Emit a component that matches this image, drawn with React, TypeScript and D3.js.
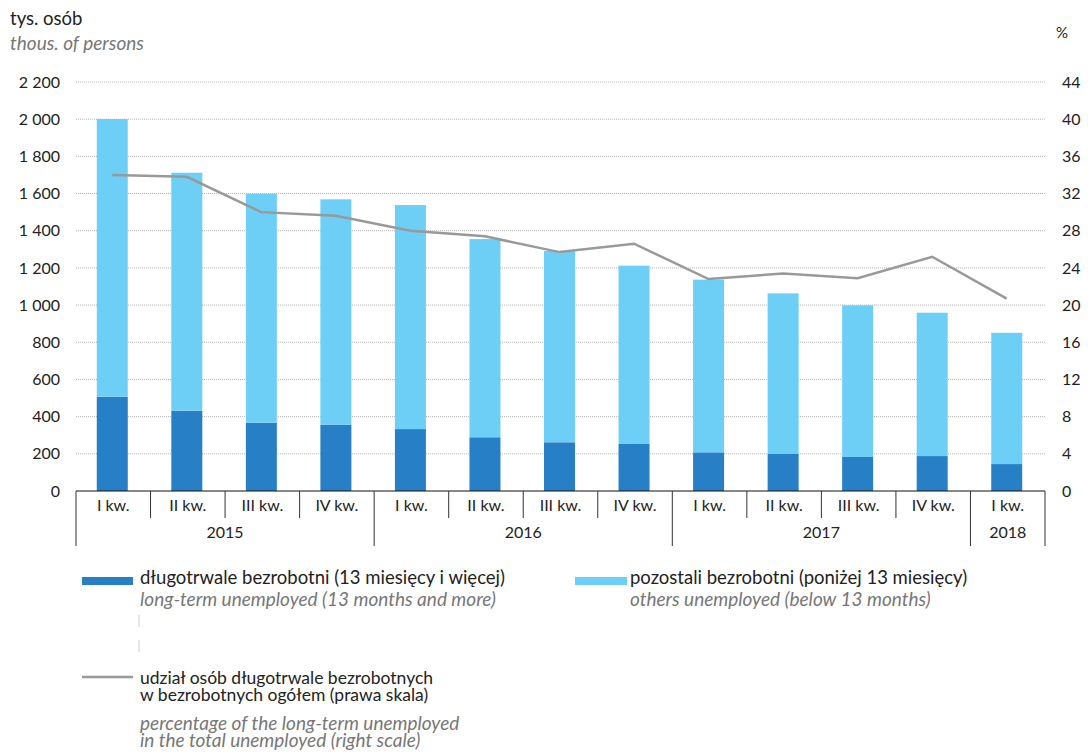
import React from "react";
import * as d3 from "d3";

const quarters = ["I kw.", "II kw.", "III kw.", "IV kw.", "I kw.", "II kw.", "III kw.", "IV kw.", "I kw.", "II kw.", "III kw.", "IV kw.", "I kw."];
const years = [
  { label: "2015", start: 0, end: 4 },
  { label: "2016", start: 4, end: 8 },
  { label: "2017", start: 8, end: 12 },
  { label: "2018", start: 12, end: 13 },
];
const longTerm = [507, 432, 367, 357, 333, 289, 262, 253, 208, 199, 183, 188, 145];
const others = [1494, 1280, 1232, 1212, 1205, 1066, 1029, 959, 929, 864, 816, 771, 706];
const share = [34.0, 33.8, 30.0, 29.6, 28.0, 27.4, 25.7, 26.6, 22.8, 23.4, 22.9, 25.2, 20.7];
const leftTicks = [0, 200, 400, 600, 800, 1000, 1200, 1400, 1600, 1800, 2000, 2200];
const rightTicks = [0, 4, 8, 12, 16, 20, 24, 28, 32, 36, 40, 44];

const DARK = "#2780c6";
const LIGHT = "#6dcff6";
const LINE = "#999999";
const FONT = "Lato, 'Open Sans', sans-serif";

const fmt = (v: number) => {
  const s = String(v);
  return s.length > 3 ? s.slice(0, s.length - 3) + " " + s.slice(-3) : s;
};

export default function App() {
  const W = 1088, H = 756;
  const x0 = 76, x1 = 1045, yTop = 82, yBase = 491;
  const idx = quarters.map((_, i) => i);
  const x = d3.scaleBand<number>().domain(idx).range([x0, x1]).padding(0);
  const y = d3.scaleLinear().domain([0, 2200]).range([yBase, yTop]);
  const yR = d3.scaleLinear().domain([0, 44]).range([yBase, yTop]);
  const bw = 31;
  const cx = (i: number) => (x(i) as number) + x.bandwidth() / 2 - 1;
  const line = d3.line<number>().x((_, i) => cx(i)).y((d) => yR(d));
  const bandEdge = (i: number) => x0 + i * x.bandwidth();
  const yearStarts = new Set(years.map((yy) => yy.start).concat([quarters.length]));

  return (
    <svg width={W} height={H} style={{ position: "absolute", left: 0, top: 0, background: "#fff" }} fontFamily={FONT}>
      <text x={10} y={25} fontSize={18.5} fill="#222">tys. osób</text>
      <text x={10} y={50} fontSize={19} fill="#777" fontStyle="italic">thous. of persons</text>
      <text x={1056} y={38} fontSize={15} fill="#222">%</text>

      {leftTicks.filter((t) => t > 0).map((t) => (
        <line key={"g" + t} x1={x0} x2={x1} y1={y(t)} y2={y(t)} stroke="#b5b5b5" strokeWidth={1} strokeDasharray="1,1" />
      ))}
      {leftTicks.map((t) => (
        <text key={"l" + t} x={60} y={y(t)} dy="0.35em" textAnchor="end" fontSize={16} fill="#222">{fmt(t)}</text>
      ))}
      {rightTicks.map((t) => (
        <text key={"r" + t} x={1062} y={yR(t)} dy="0.35em" textAnchor="start" fontSize={16} fill="#222">{t}</text>
      ))}

      {idx.map((i) => (
        <g key={"b" + i}>
          <rect x={cx(i) - bw / 2} width={bw} y={y(longTerm[i])} height={yBase - y(longTerm[i])} fill={DARK} />
          <rect x={cx(i) - bw / 2} width={bw} y={y(longTerm[i] + others[i])} height={y(longTerm[i]) - y(longTerm[i] + others[i])} fill={LIGHT} />
        </g>
      ))}

      <path d={line(share) || ""} fill="none" stroke={LINE} strokeWidth={2.5} />

      <line x1={x0} x2={x1} y1={yBase} y2={yBase} stroke="#111" strokeWidth={1.2} />
      {d3.range(quarters.length + 1).map((k) => (
        <line key={"t" + k} x1={bandEdge(k)} x2={bandEdge(k)} y1={yBase} y2={yearStarts.has(k) ? 546 : 518} stroke="#333" strokeWidth={1} />
      ))}
      {quarters.map((q, i) => (
        <text key={"q" + i} x={cx(i) + 1} y={511} textAnchor="middle" fontSize={16} fill="#222">{q}</text>
      ))}
      {years.map((yy) => (
        <text key={yy.label} x={(bandEdge(yy.start) + bandEdge(yy.end)) / 2} y={538} textAnchor="middle" fontSize={16} fill="#222">{yy.label}</text>
      ))}

      {/* legend */}
      <rect x={82} y={577} width={51} height={8} fill={DARK} />
      <text x={140} y={584} fontSize={18.5} fill="#222">długotrwale bezrobotni (13 miesięcy i więcej)</text>
      <text x={140} y={606} fontSize={19} fill="#777" fontStyle="italic">long-term unemployed (13 months and more)</text>
      <line x1={139} x2={139} y1={615} y2={627} stroke="#ccc" strokeWidth={1} />
      <line x1={139} x2={139} y1={640} y2={652} stroke="#ccc" strokeWidth={1} />

      <rect x={575} y={577} width={52} height={8} fill={LIGHT} />
      <text x={630} y={584} fontSize={18.5} fill="#222">pozostali bezrobotni (poniżej 13 miesięcy)</text>
      <text x={630} y={606} fontSize={19} fill="#777" fontStyle="italic">others unemployed (below 13 months)</text>

      <line x1={82} x2={133} y1={677} y2={677} stroke={LINE} strokeWidth={2.5} />
      <text x={140} y={684} fontSize={17.5} fill="#222">udział osób długotrwale bezrobotnych</text>
      <text x={140} y={701} fontSize={17.5} fill="#222">w bezrobotnych ogółem (prawa skala)</text>
      <text x={140} y={730} fontSize={19} fill="#777" fontStyle="italic">percentage of the long-term unemployed</text>
      <text x={140} y={747} fontSize={19} fill="#777" fontStyle="italic">in the total unemployed (right scale)</text>
    </svg>
  );
}
